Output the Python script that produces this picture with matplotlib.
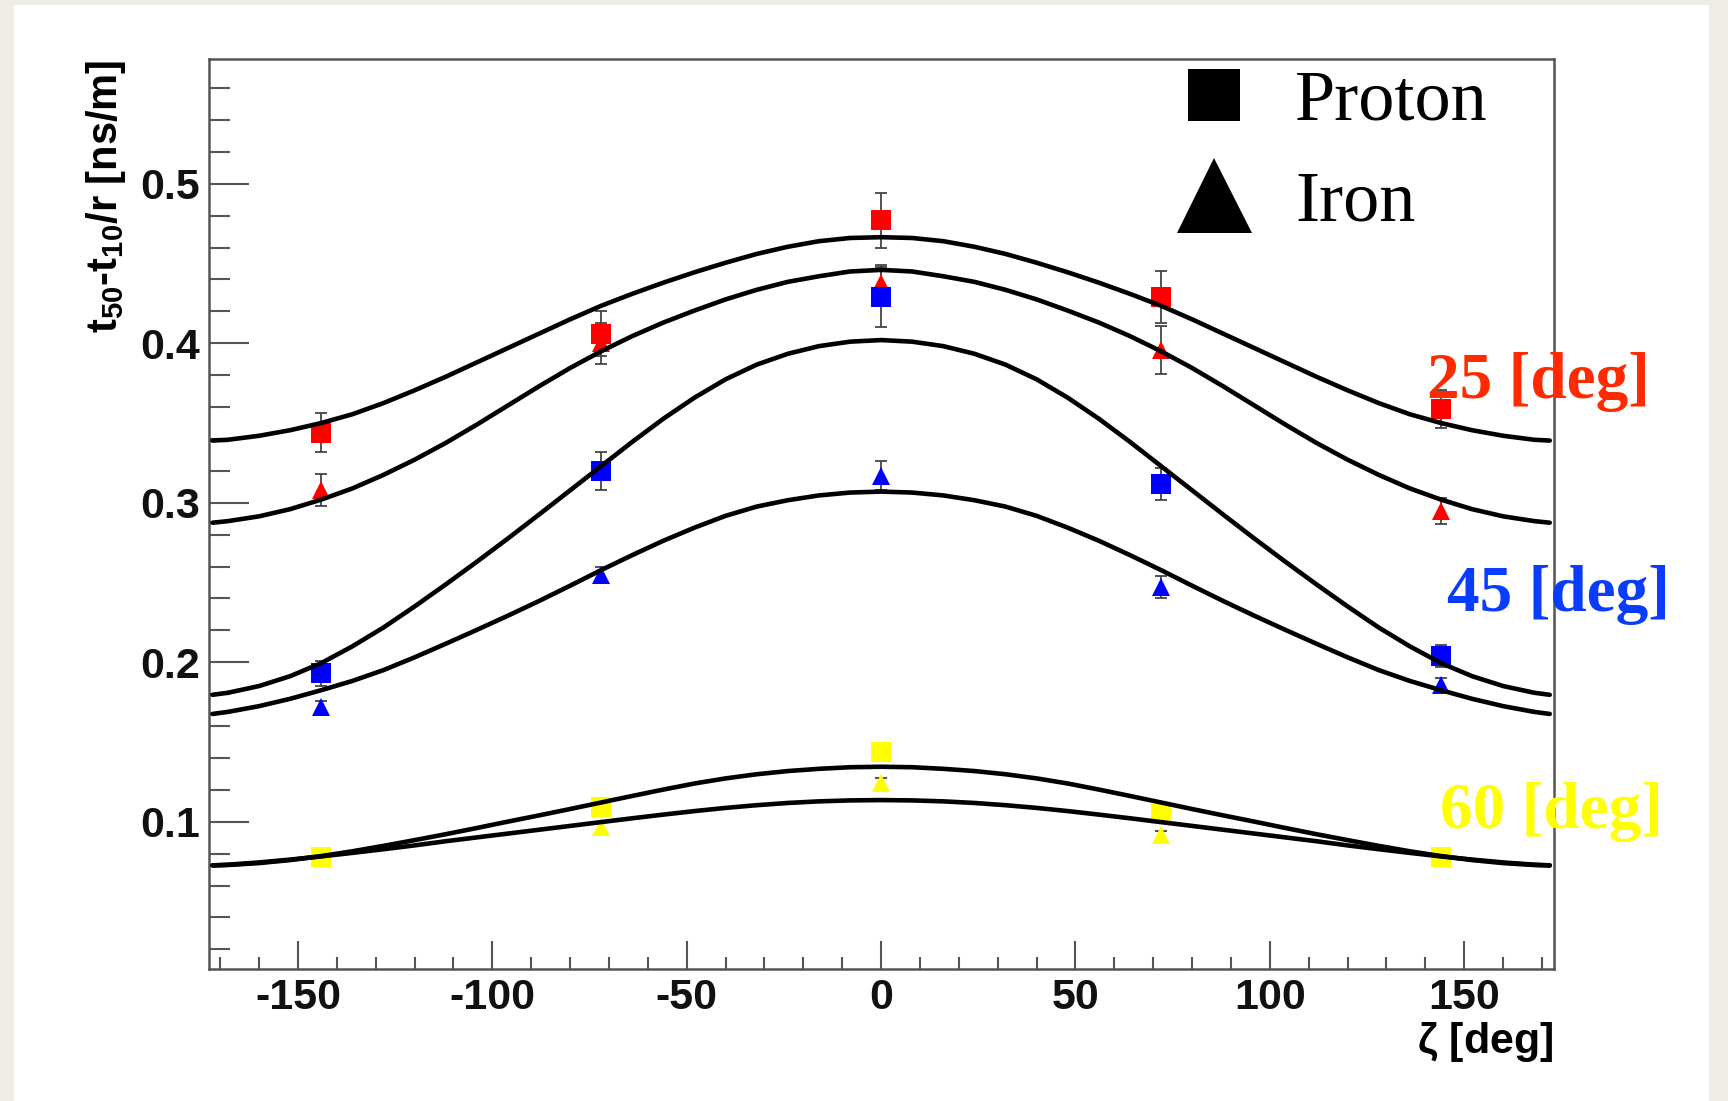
import numpy as np
import matplotlib
matplotlib.use("Agg")
import matplotlib.pyplot as plt
from matplotlib.lines import Line2D
from matplotlib.patches import Rectangle
from matplotlib.ticker import MultipleLocator, FixedLocator

plt.rcParams["font.family"] = ["Liberation Sans", "DejaVu Sans"]
plt.rcParams["mathtext.fontset"] = "custom"
plt.rcParams["mathtext.rm"] = "Liberation Sans:bold"
plt.rcParams["mathtext.default"] = "rm"
plt.rcParams["axes.unicode_minus"] = False

# punti misurati (zenith 25, 45, 60 deg)
zeta = [-144, -72, 0, 72, 144]

red_proton = [0.344, 0.406, 0.477, 0.429, 0.359]
red_proton_err = [0.012, 0.014, 0.017, 0.016, 0.012]
red_iron = [0.308, 0.400, 0.438, 0.396, 0.295]
red_iron_err = [0.010, 0.013, 0.011, 0.015, 0.008]

blue_proton = [0.193, 0.320, 0.429, 0.312, 0.204]
blue_proton_err = [0.008, 0.012, 0.019, 0.010, 0.007]
blue_iron = [0.172, 0.255, 0.317, 0.247, 0.186]
blue_iron_err = [0.004, 0.005, 0.009, 0.007, 0.004]

yellow_proton = [0.078, 0.109, 0.144, 0.105, 0.078]
yellow_proton_err = [0.003, 0.003, 0.004, 0.003, 0.003]
yellow_iron = [0.077, 0.097, 0.1245, 0.0915, 0.077]
yellow_iron_err = [0.003, 0.003, 0.003, 0.003, 0.003]

# curve di fit (meta' destra, la curva e' simmetrica in zeta)
zeta_fit_half = [0, 8, 16, 24, 32, 40, 48, 56, 64, 72, 80, 88, 96, 104, 112, 120,
                 128, 136, 144, 152, 160, 168, 172]
fit_red_proton = [0.4665, 0.4660, 0.4640, 0.4605, 0.4560, 0.4505, 0.4445, 0.4380, 0.4310, 0.4235,
                  0.4150, 0.4060, 0.3970, 0.3880, 0.3790, 0.3705, 0.3625, 0.3555, 0.3500, 0.3455,
                  0.3420, 0.3395, 0.3390]
fit_red_iron = [0.4460, 0.4450, 0.4420, 0.4385, 0.4335, 0.4275, 0.4205, 0.4130, 0.4045, 0.3950,
                0.3845, 0.3730, 0.3610, 0.3490, 0.3375, 0.3270, 0.3175, 0.3090, 0.3020, 0.2960,
                0.2915, 0.2885, 0.2875]
fit_blue_proton = [0.4020, 0.4010, 0.3982, 0.3934, 0.3866, 0.3774, 0.3659, 0.3527, 0.3382, 0.3230,
                   0.3078, 0.2926, 0.2776, 0.2630, 0.2488, 0.2350, 0.2218, 0.2100, 0.1995, 0.1913,
                   0.1851, 0.1809, 0.1796]
fit_blue_iron = [0.3070, 0.3064, 0.3046, 0.3016, 0.2976, 0.2918, 0.2844, 0.2762, 0.2672, 0.2578,
                 0.2480, 0.2384, 0.2292, 0.2203, 0.2116, 0.2031, 0.1951, 0.1883, 0.1825, 0.1771,
                 0.1725, 0.1689, 0.1676]
fit_yellow_proton = [0.1345, 0.1342, 0.1332, 0.1318, 0.1298, 0.1272, 0.1240, 0.1202, 0.1162, 0.1121,
                     0.1080, 0.1040, 0.1001, 0.0961, 0.0922, 0.0885, 0.0849, 0.0815, 0.0785, 0.0760,
                     0.0741, 0.0729, 0.0726]
fit_yellow_iron = [0.1136, 0.1134, 0.1128, 0.1118, 0.1104, 0.1087, 0.1067, 0.1045, 0.1022, 0.0998,
                   0.0974, 0.0950, 0.0926, 0.0902, 0.0878, 0.0852, 0.0828, 0.0805, 0.0783, 0.0763,
                   0.0745, 0.0731, 0.0727]

zenith_labels = ["25 [deg]", "45 [deg]", "60 [deg]"]

fig = plt.figure(figsize=(17.28, 11.01), dpi=100)
fig.patch.set_facecolor("#efece6")
fig.add_artist(Rectangle((14 / 1728, 0), (1709 - 14) / 1728, 1 - 5 / 1101,
                         transform=fig.transFigure, facecolor="white", edgecolor="none", zorder=0))

ax = fig.add_axes([0.1207, 0.1196, 0.7784, 0.8265])
ax.set_facecolor("white")

punti = [
    (red_proton, red_proton_err, "s", "#ff0000"),
    (red_iron, red_iron_err, "^", "#ff0000"),
    (blue_proton, blue_proton_err, "s", "#0000ff"),
    (blue_iron, blue_iron_err, "^", "#0000ff"),
    (yellow_proton, yellow_proton_err, "s", "#ffff00"),
    (yellow_iron, yellow_iron_err, "^", "#ffff00"),
]
for valori, errori, marker, colore in punti:
    ax.errorbar(zeta, valori, yerr=errori, fmt="none", ecolor="#444444",
                elinewidth=1.3, capsize=4, capthick=1.3, zorder=2)
    ms = 14.5 if marker == "s" else 13
    ax.plot(zeta, valori, ls="none", marker=marker, ms=ms, mew=0, color=colore, zorder=3)

# ricostruisce la curva completa specchiando la meta' destra
zf = np.array(zeta_fit_half)
zeta_fit = np.concatenate([-zf[:0:-1], zf])
for curva in [fit_red_proton, fit_red_iron, fit_blue_proton, fit_blue_iron,
              fit_yellow_proton, fit_yellow_iron]:
    c = np.array(curva)
    ax.plot(zeta_fit, np.concatenate([c[:0:-1], c]), color="black", lw=3.3,
            solid_joinstyle="round", solid_capstyle="round", zorder=4)

ax.set_xlim(-173, 173)
ax.set_ylim(0.0075, 0.578)

ax.xaxis.set_major_locator(FixedLocator([-150, -100, -50, 0, 50, 100, 150]))
ax.xaxis.set_minor_locator(MultipleLocator(10))
ax.yaxis.set_major_locator(FixedLocator([0.1, 0.2, 0.3, 0.4, 0.5]))
ax.yaxis.set_minor_locator(MultipleLocator(0.02))

ax.tick_params(axis="both", which="both", direction="in", color="#555555", width=1.5,
               top=False, right=False)
ax.tick_params(axis="y", which="major", length=29, pad=6, labelsize=31)
ax.tick_params(axis="y", which="minor", length=15)
ax.tick_params(axis="x", which="major", length=20, pad=6, labelsize=31)
ax.tick_params(axis="x", which="minor", length=9)
for lab in ax.get_xticklabels() + ax.get_yticklabels():
    lab.set_fontweight("bold")
    lab.set_color("#111111")

for sp in ax.spines.values():
    sp.set_color("#555555")
    sp.set_linewidth(1.8)

ax.set_xlabel(r"$\zeta$ [deg]", loc="right", fontsize=31, fontweight="bold", labelpad=2)
ax.set_ylabel(r"t$_{50}$-t$_{10}$/r [ns/m]", loc="top", fontsize=30, fontweight="bold", labelpad=9)

# legenda
handles = [
    Line2D([], [], ls="none", marker="s", ms=38, mew=0, color="black"),
    Line2D([], [], ls="none", marker="^", ms=54, mew=0, color="black"),
]
ax.legend(handles, ["Proton", "Iron"], loc="upper left", bbox_to_anchor=(0.718, 0.993),
          frameon=False, prop={"family": "Liberation Serif", "size": 52},
          handlelength=1.0, handletextpad=0.62, borderpad=0.05, labelspacing=0.48,
          borderaxespad=0)

# etichette zenith
colori_testo = ["#ff2a00", "#0a3cff", "#ffff00"]
pos_testo = [(140.4, 0.3755), (145.5, 0.242), (143.7, 0.106)]
for testo, col, (px, py) in zip(zenith_labels, colori_testo, pos_testo):
    ax.text(px, py, testo, color=col, fontsize=47, fontweight="bold",
            family="Liberation Serif", ha="left", va="center", zorder=6, clip_on=False)

fig.savefig("out.png", dpi=100, facecolor=fig.get_facecolor())
